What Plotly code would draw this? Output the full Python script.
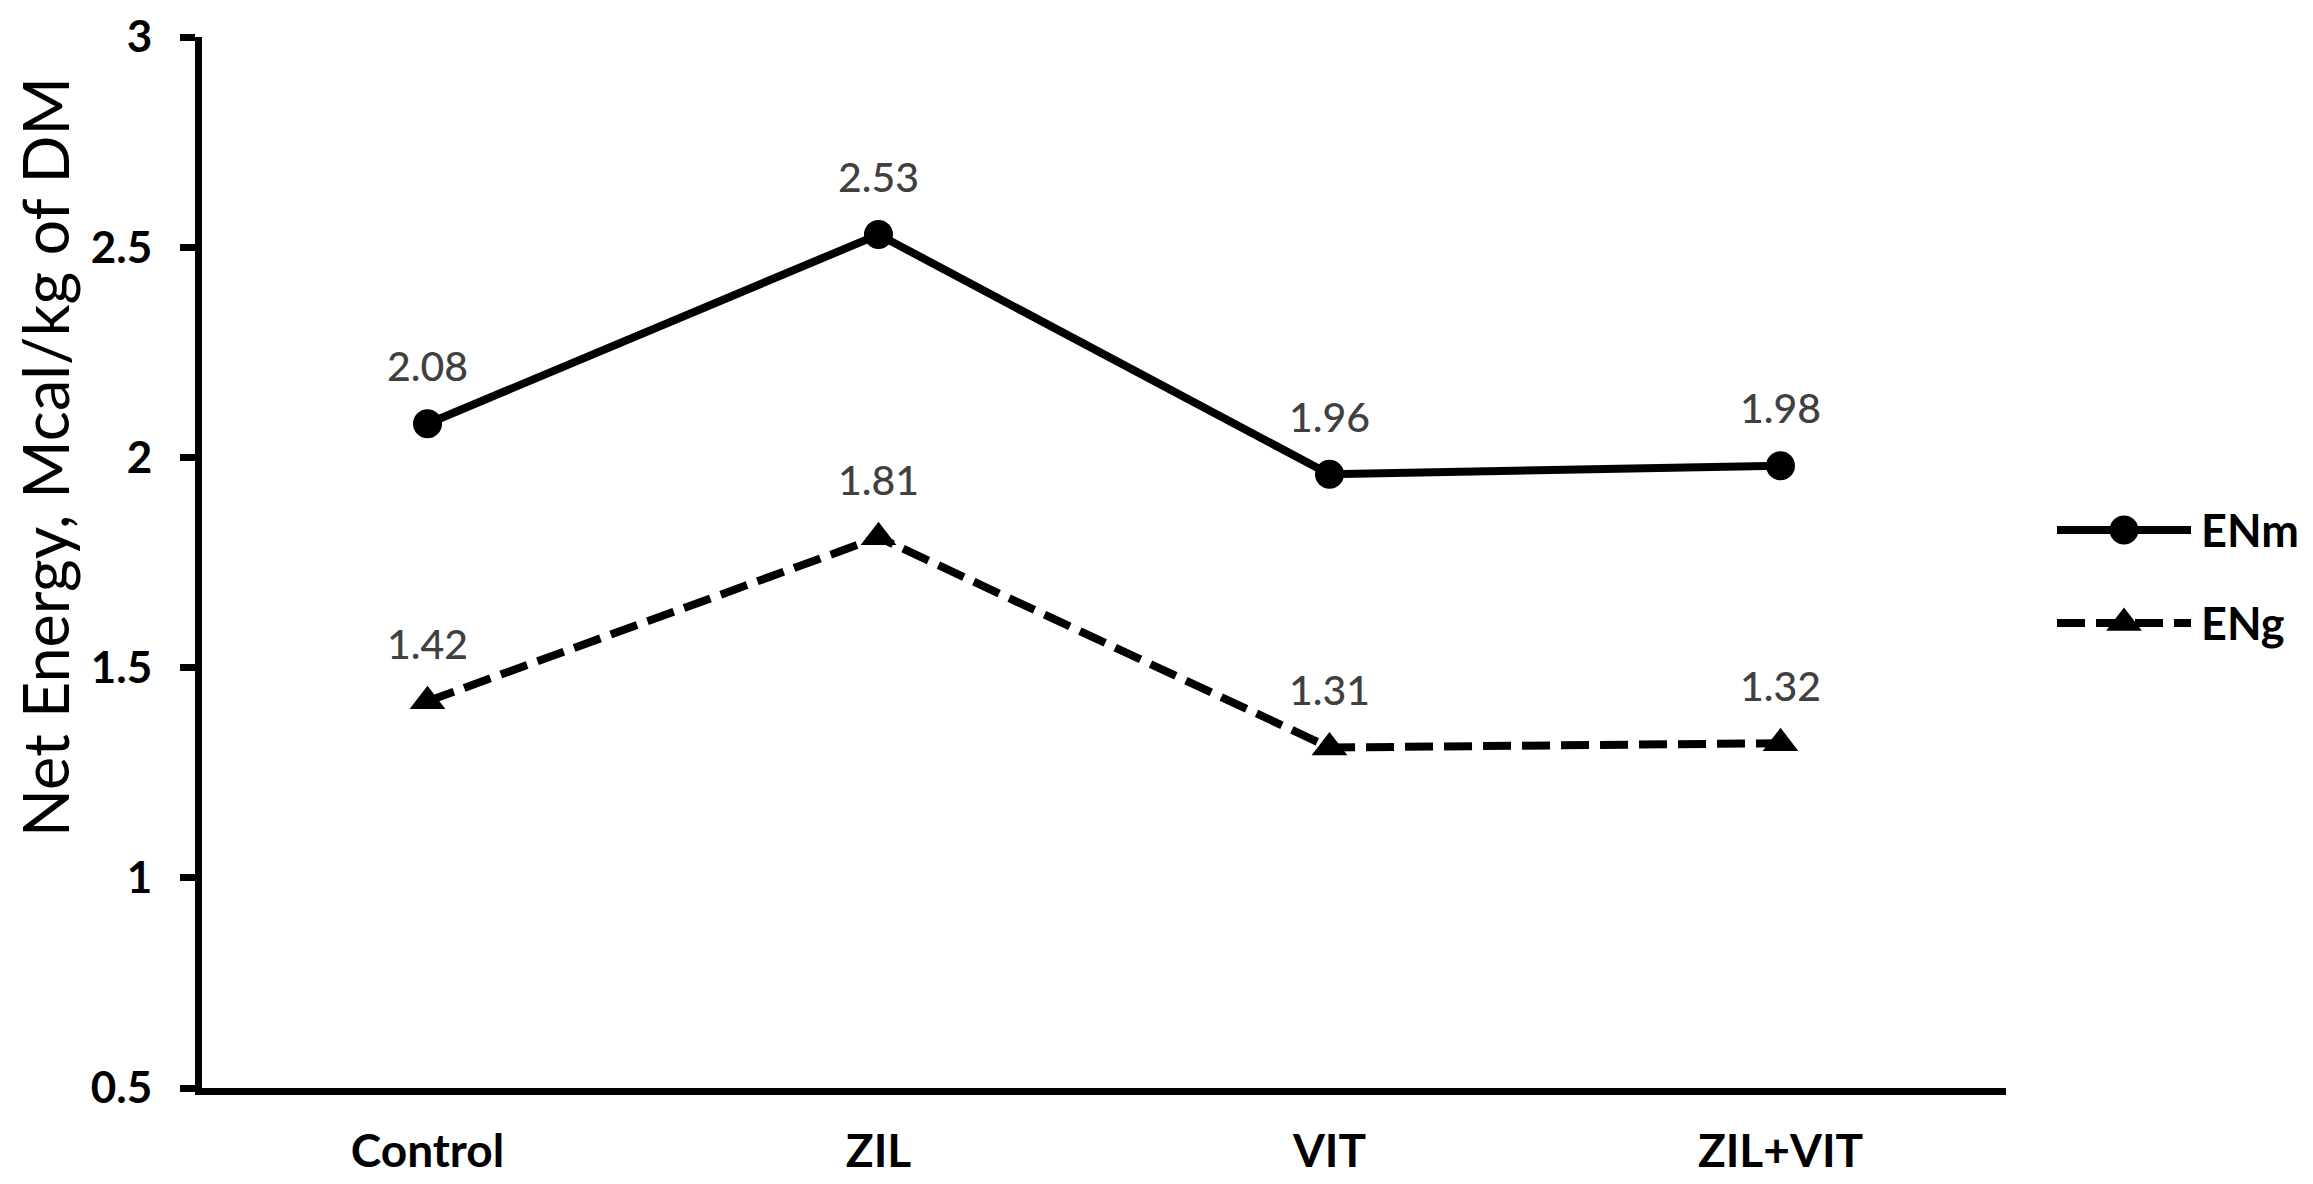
import plotly.graph_objects as go

# ---- data ----
categories = ["Control", "ZIL", "VIT", "ZIL+VIT"]
enm = [2.08, 2.53, 1.96, 1.98]
eng = [1.42, 1.81, 1.31, 1.32]
series_names = ["ENm", "ENg"]
y_ticks = [0.5, 1, 1.5, 2, 2.5, 3]
y_tick_labels = ["0.5", "1", "1.5", "2", "2.5", "3"]
y_title = "Net Energy, Mcal/kg of DM"

# ---- layout geometry (page pixels; the page body adds an 8px offset) ----
OFF = 8
W, H = 2313 - OFF, 1184 - OFF
L = 202 - OFF
T = 37 - OFF
B = H - (1088 - OFF)
plot_w_px = 1804
paper_w = W - L
plot_h_px = H - T - B
x_dom_end = plot_w_px / paper_w

FONT = "Lato"
fig = go.Figure()

styles = [
    dict(dash="solid", symbol="circle", size=29),
    dict(dash="28px,11px", symbol="triangle-up", size=31),
]

for name, vals, st in zip(series_names, [enm, eng], styles):
    fig.add_trace(go.Scatter(
        x=categories, y=vals, mode="lines+markers", name=name,
        line=dict(color="black", width=8, dash=st["dash"]),
        marker=dict(symbol=st["symbol"], size=st["size"], color="black"),
        showlegend=False, cliponaxis=False, hoverinfo="x+y"))
    for c, v in zip(categories, vals):
        fig.add_annotation(x=c, y=v, text=f"{v:.2f}", showarrow=False,
                           yshift=58, font=dict(family=FONT, size=41, color="#404040", weight=500))

# ---- custom legend (own small axis) ----
def page_y_to_y2(py):
    return (H - B - (py - OFF)) / plot_h_px

def page_x_to_paper(px):
    return (px - OFF - L) / paper_w

leg_y = [page_y_to_y2(530), page_y_to_y2(623)]
for name, st, ly in zip(series_names, styles, leg_y):
    fig.add_trace(go.Scatter(
        x=[0, 0.5, 1], y=[ly] * 3, xaxis="x2", yaxis="y2", mode="lines",
        line=dict(color="black", width=8, dash=st["dash"]),
        showlegend=False, hoverinfo="skip", cliponaxis=False))
    fig.add_trace(go.Scatter(
        x=[0.5], y=[ly], xaxis="x2", yaxis="y2", mode="markers",
        marker=dict(symbol=st["symbol"], size=st["size"], color="black"),
        showlegend=False, hoverinfo="skip", cliponaxis=False))
    fig.add_annotation(xref="x2", yref="y2", x=1, y=ly, text=name, showarrow=False,
                       xanchor="left", yanchor="middle", xshift=8,
                       font=dict(family=FONT, size=45, color="black", weight="bold"))

# ---- y-axis title ----
fig.add_annotation(xref="paper", yref="y2",
                   x=page_x_to_paper(44), y=page_y_to_y2(457),
                   text=y_title, textangle=-90, showarrow=False,
                   xanchor="center", yanchor="middle",
                   font=dict(family=FONT, size=63, color="black"))

fig.update_layout(
    width=W, height=H, autosize=False,
    margin=dict(l=L, r=0, t=T, b=B, pad=0, autoexpand=False),
    plot_bgcolor="white", paper_bgcolor="white",
    showlegend=False,
    font=dict(family=FONT, color="black"),
    xaxis=dict(
        domain=[0, x_dom_end], type="category", range=[-0.5, 3.5],
        showline=True, linecolor="black", linewidth=7,
        showgrid=False, zeroline=False, ticks="", automargin=False,
        tickfont=dict(family=FONT, size=46, color="black", weight="bold"),
        ticklabelstandoff=17, fixedrange=True,
    ),
    yaxis=dict(
        range=[0.5, 3], tickvals=y_ticks, ticktext=y_tick_labels,
        showline=True, linecolor="black", linewidth=7, automargin=False,
        showgrid=False, zeroline=False,
        ticks="outside", ticklen=15, tickwidth=7, tickcolor="black",
        tickfont=dict(family=FONT, size=44, color="black", weight="bold"),
        ticklabelstandoff=19, fixedrange=True,
    ),
    xaxis2=dict(domain=[page_x_to_paper(2057), page_x_to_paper(2191)], range=[0, 1],
                visible=False, anchor="y2", fixedrange=True, automargin=False),
    yaxis2=dict(domain=[0, 1], range=[0, 1], visible=False, anchor="x2",
                fixedrange=True, automargin=False),
)

fig.write_html("out.html")
